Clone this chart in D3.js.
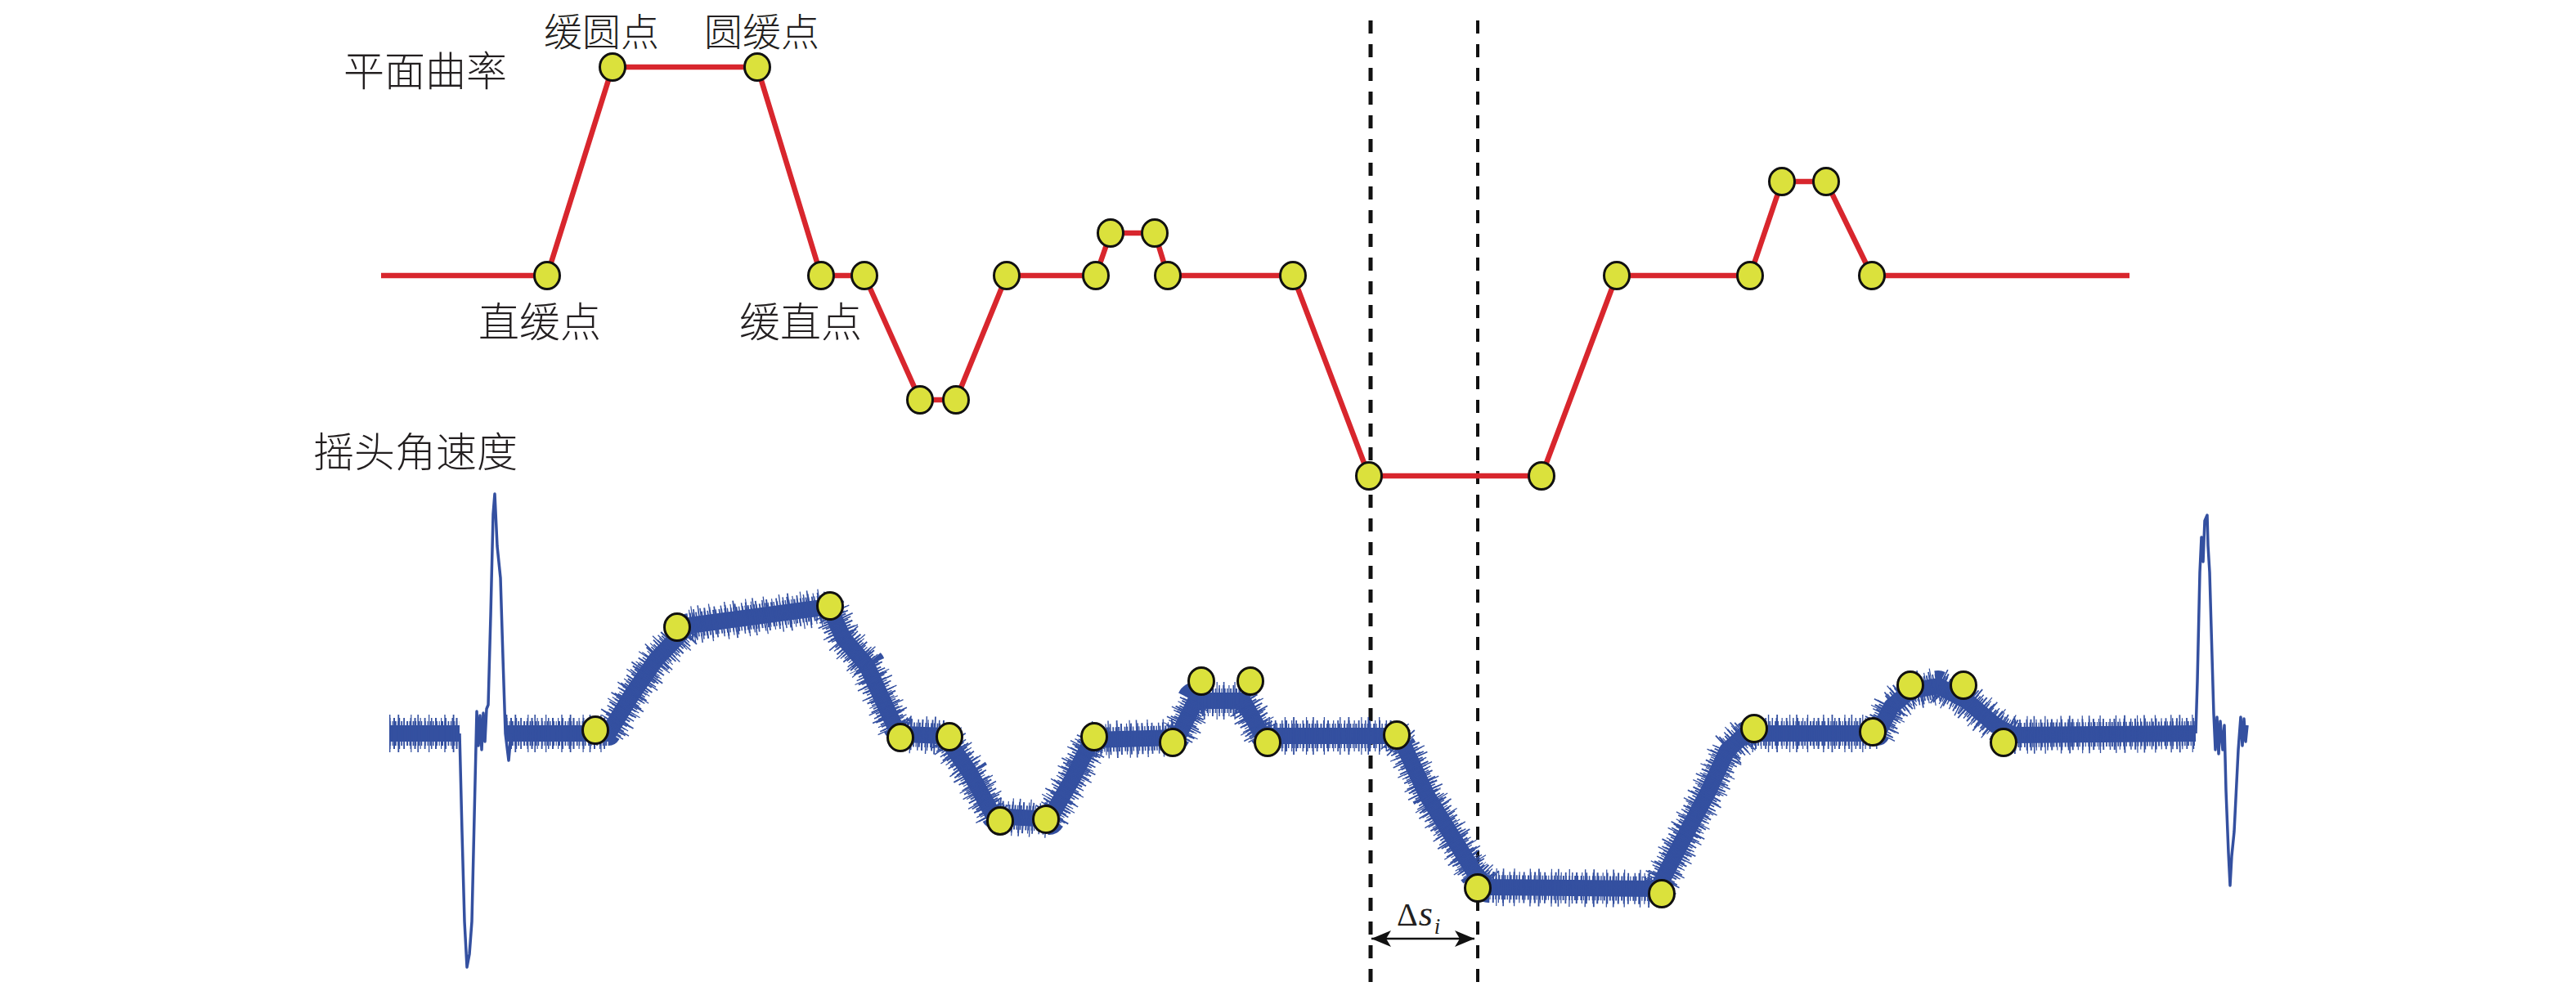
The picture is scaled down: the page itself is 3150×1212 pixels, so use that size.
<!DOCTYPE html>
<html>
<head>
<meta charset="utf-8">
<script src="https://cdn.jsdelivr.net/npm/d3@7"></script>
<style>
  body { margin: 0; background: #fff; }
  .cjk { font-family: "Noto Sans CJK SC", sans-serif; font-weight: 300; font-size: 50px; fill: #231f20; }
  .math { font-family: "Liberation Serif", "Times New Roman", serif; font-size: 40px; fill: #231f20; }
</style>
</head>
<body>
<div id="container"></div>
<script>

var width = 3150;

var height = 1212;

var red = "#d8262d";

var blue = "#3450a0";

var yellow = "#dbe13c";

//  plane curvature (s = position along track, k = relative curvature)
var curvS = [466, 669, 749, 926, 1004, 1057, 1125, 1169, 1231, 1340, 1358, 1412, 1428, 1581, 1674, 1885, 1977, 2140, 2179, 2233, 2289, 2604];
var curvK = [0, 0, 2.55, 2.55, 0, 0, -1.52, -1.52, 0, 0, 0.52, 0.52, 0, 0, -2.45, -2.45, 0, 0, 1.15, 1.15, 0, 0];

//  yaw angular velocity, trend of the noisy band (two pieces, split by the entry transient)
var bandS1 = [476, 562];
var bandR1 = [0, 0];

var bandS2 = [619, 744, 773, 802, 842, 917, 1014, 1031, 1060, 1095, 1106, 1155, 1186, 1215, 1283, 1310, 1335, 1440, 1462, 1520,
              1544, 1705, 1717, 1745, 1774, 1803, 1820, 2027, 2061, 2089, 2112, 2135, 2296, 2313, 2336, 2370, 2405, 2440, 2462, 2685];
var bandR2 = [0, 0, 0.48, 0.90, 1.32, 1.42, 1.55, 1.17, 0.83, 0.07, -0.01, -0.03, -0.48, -1.01, -1.05, -0.58, -0.08, -0.05, 0.40, 0.40,
              -0.03, -0.03, -0.16, -0.76, -1.23, -1.70, -1.88, -1.90, -1.24, -0.71, -0.21, 0, 0, 0.33, 0.52, 0.58, 0.40, 0.10, -0.02, 0];

//  entry / exit transients
var spikeLS = [562, 565, 568, 571, 574, 577, 583, 585, 587, 589, 591, 593, 595, 597, 600, 603, 605, 608, 612, 615, 618, 622, 625];
var spikeLR = [0, -1.21, -2.30, -2.86, -2.70, -2.30, 0.27, -0.15, 0.22, -0.20, 0.25, -0.10, 0.30, 0.35, 1.44, 2.68, 2.93, 2.29, 1.90, 0.93, 0, -0.33, 0];

var spikeRS = [2685, 2687, 2690, 2692, 2694, 2696, 2699, 2700, 2702, 2707, 2709, 2711, 2713, 2715, 2718, 2720, 2722, 2725, 2727, 2729,
               2732, 2737, 2740, 2742, 2744, 2746, 2748];
var spikeRR = [0, 0.64, 1.97, 2.40, 2.10, 2.60, 2.67, 2.30, 1.97, 0.24, -0.20, 0.20, -0.25, 0.15, -0.20, 0.10, -0.70, -1.46, -1.86, -1.50,
               -1.20, -0.20, 0.20, -0.15, 0.18, -0.10, 0.10];

//  feature points on the yaw signal
var rateDotS = [728, 828, 1015, 1101, 1161, 1223, 1279, 1338, 1434, 1469, 1529, 1550, 1708, 1807, 2032, 2145, 2290, 2336, 2401, 2450];
var rateDotR = [0.04, 1.30, 1.56, -0.05, -0.04, -1.07, -1.05, -0.04, -0.11, 0.64, 0.64, -0.11, -0.02, -1.89, -1.96, 0.06, 0.02, 0.59, 0.59, -0.11];

//  the two positions marking delta s
var deltaS = [1676, 1807];

var sScale = d3.scaleLinear().domain([0, 3150]).range([0, width]);

var kScale = d3.scaleLinear().domain([-3, 3]).range([637, 37]);

var rScale = d3.scaleLinear().domain([-3, 3]).range([1197, 597]);

function zip(a, b) {
    return a.map(function(d, i){ return [d, b[i]]; });
}

var svg = d3.select("#container")
    .append("svg")
    .attr("width", width)
    .attr("height", height)
    .style("display", "block");

var defs = svg.append("defs");

defs.append("marker")
    .attr("id", "head")
    .attr("viewBox", "0 -10 24 20")
    .attr("refX", 24)
    .attr("refY", 0)
    .attr("markerUnits", "userSpaceOnUse")
    .attr("markerWidth", 24)
    .attr("markerHeight", 20)
    .attr("orient", "auto-start-reverse")
    .append("path")
    .attr("d", "M0,-10L24,0L0,10L6,0Z")
    .attr("fill", "#111");

//  dashed guides
svg.selectAll(".guide")
    .data(deltaS)
    .enter()
    .append("line")
    .attr("class", "guide")
    .attr("x1", function(d){ return sScale(d); })
    .attr("x2", function(d){ return sScale(d); })
    .attr("y1", 25)
    .attr("y2", 1205)
    .attr("stroke", "#111")
    .attr("stroke-width", function(d, i){ return i == 0 ? 5 : 4; })
    .attr("stroke-dasharray", "16 13");

//  yaw rate band: solid core + dashed slivers to give the noisy edge
var rateLine = d3.line()
    .x(function(d){ return sScale(d[0]); })
    .y(function(d){ return rScale(d[1]); });

var bandLayers = [
    {w: 20, dash: null},
    {w: 30, dash: "1.8 1.6 1.2 2.2 2 1.4 1.5 2.6"},
    {w: 38, dash: "1.5 3.5 2 5 1.2 4 1.8 6.5"},
    {w: 46, dash: "1.4 9 1.8 14 1.2 7 1.6 12 1.3 18"}
];

function drawBand(sArr, rArr) {

    var d = rateLine(zip(sArr, rArr));

    bandLayers.forEach(function(l){
        svg.append("path")
            .attr("class", "band")
            .attr("d", d)
            .attr("fill", "none")
            .attr("stroke", blue)
            .attr("stroke-width", l.w)
            .attr("stroke-linejoin", "round")
            .attr("stroke-dasharray", l.dash);
    });
}

drawBand(bandS1, bandR1);
drawBand(bandS2, bandR2);

[[spikeLS, spikeLR], [spikeRS, spikeRR]].forEach(function(p){
    svg.append("path")
        .attr("class", "spike")
        .attr("d", rateLine(zip(p[0], p[1])))
        .attr("fill", "none")
        .attr("stroke", blue)
        .attr("stroke-width", 3.5)
        .attr("stroke-linejoin", "round");
});

//  plane curvature line
var curvLine = d3.line()
    .x(function(d){ return sScale(d[0]); })
    .y(function(d){ return kScale(d[1]); });

var curvPts = zip(curvS, curvK);

svg.append("path")
    .attr("d", curvLine(curvPts))
    .attr("fill", "none")
    .attr("stroke", red)
    .attr("stroke-width", 6.5)
    .attr("stroke-linejoin", "round");

//  feature points (skip the two free ends of the curvature line)
svg.selectAll(".kdot")
    .data(curvPts.slice(1, curvPts.length - 1))
    .enter()
    .append("ellipse")
    .attr("class", "kdot")
    .attr("cx", function(d){ return sScale(d[0]); })
    .attr("cy", function(d){ return kScale(d[1]); })
    .attr("rx", 15.5)
    .attr("ry", 16.5)
    .attr("fill", yellow)
    .attr("stroke", "#111")
    .attr("stroke-width", 3);

svg.selectAll(".rdot")
    .data(zip(rateDotS, rateDotR))
    .enter()
    .append("ellipse")
    .attr("class", "rdot")
    .attr("cx", function(d){ return sScale(d[0]); })
    .attr("cy", function(d){ return rScale(d[1]); })
    .attr("rx", 15.5)
    .attr("ry", 16.5)
    .attr("fill", yellow)
    .attr("stroke", "#111")
    .attr("stroke-width", 3);

//  delta s arrow
var arrowY = rScale(-2.51);

svg.append("line")
    .attr("x1", sScale(deltaS[0]) + 1)
    .attr("x2", sScale(deltaS[1]) - 4)
    .attr("y1", arrowY)
    .attr("y2", arrowY)
    .attr("stroke", "#111")
    .attr("stroke-width", 2.5)
    .attr("marker-start", "url(#head)")
    .attr("marker-end", "url(#head)");

var ds = svg.append("text")
    .attr("class", "math")
    .attr("x", 1708)
    .attr("y", 1132);

ds.append("tspan").text("Δ");
ds.append("tspan").attr("font-style", "italic").attr("font-size", 44).attr("dx", 1).text("s");
ds.append("tspan").attr("font-style", "italic").attr("font-size", 27).attr("dx", 2).attr("dy", 10).text("i");

//  labels
var labels = [
    {t: "平面曲率", x: 420, y: 83, size: 50},
    {t: "缓圆点", x: 665, y: 35, size: 47},
    {t: "圆缓点", x: 861, y: 35, size: 47},
    {t: "直缓点", x: 585, y: 390, size: 50},
    {t: "缓直点", x: 904, y: 390, size: 50},
    {t: "摇头角速度", x: 383, y: 549, size: 50}
];

svg.selectAll(".cjk")
    .data(labels)
    .enter()
    .append("text")
    .attr("class", "cjk")
    .attr("x", function(d){ return d.x; })
    .attr("y", function(d){ return d.y; })
    .style("font-size", function(d){ return d.size + "px"; })
    .attr("dominant-baseline", "central")
    .text(function(d){ return d.t; });

</script>
</body>
</html>
